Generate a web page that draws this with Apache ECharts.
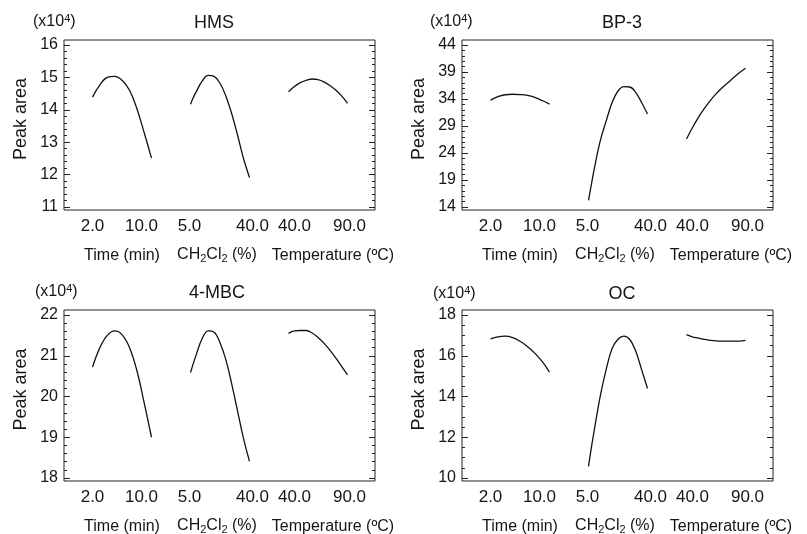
<!DOCTYPE html>
<html>
<head>
<meta charset="utf-8">
<script src="https://cdn.jsdelivr.net/npm/echarts@6/dist/echarts.min.js"></script>
<style>html,body{margin:0;padding:0;background:#fff;}#c{width:807px;height:534px;}</style>
</head>
<body>
<div id="c"></div>
<script>
// ---------- data ----------
const panelTitles = ['HMS', 'BP-3', '4-MBC', 'OC'];
const factorNames = ['Time (min)', 'CH{sub|2}Cl{sub|2} (%)', 'Temperature (ºC)'];
const timeRange = [2, 10];
const ch2Range = [5, 40];
const tempRange = [40, 90];
const timeX = [2, 3, 4, 5, 6, 7, 8, 9, 10];
const ch2X = [5, 6.75, 8.5, 12, 15.5, 19, 22.5, 26, 29.5, 33, 36.5, 40];
const tempX = [40, 45, 50, 55, 60, 65, 70, 75, 80, 85, 90];

const hmsTicks = [11, 12, 13, 14, 15, 16];
const hmsTime = [14.39, 14.77, 15.00, 15.03, 14.91, 14.61, 14.05, 13.30, 12.51];
const hmsCh2 = [14.17, 14.39, 14.57, 14.89, 15.06, 15.03, 14.82, 14.42, 13.87, 13.20, 12.49, 11.91];
const hmsTemp = [14.56, 14.72, 14.84, 14.91, 14.95, 14.93, 14.86, 14.75, 14.61, 14.43, 14.20];

const bp3Ticks = [14, 19, 24, 29, 34, 39, 44];
const bp3Time = [33.78, 34.42, 34.79, 34.88, 34.82, 34.66, 34.30, 33.72, 33.05];
const bp3Ch2 = [15.22, 18.26, 21.18, 26.29, 29.95, 33.35, 35.48, 36.28, 36.22, 35.24, 33.35, 31.22];
const bp3Temp = [26.6, 28.67, 30.55, 32.2, 33.66, 34.94, 36.03, 37.0, 37.98, 38.89, 39.68];

const mbcTicks = [18, 19, 20, 21, 22];
const mbcTime = [20.72, 21.2, 21.50, 21.61, 21.52, 21.21, 20.65, 19.85, 19.0];
const mbcCh2 = [20.59, 20.82, 21.04, 21.43, 21.61, 21.58, 21.32, 20.90, 20.30, 19.63, 18.96, 18.41];
const mbcTemp = [21.55, 21.61, 21.62, 21.62, 21.56, 21.45, 21.31, 21.14, 20.95, 20.74, 20.53];

const ocTicks = [10, 12, 14, 16, 18];
const ocTime = [16.83, 16.93, 16.96, 16.89, 16.71, 16.46, 16.13, 15.72, 15.2];
const ocCh2 = [10.57, 11.51, 12.39, 14.03, 15.33, 16.36, 16.81, 16.96, 16.80, 16.23, 15.32, 14.39];
const ocTemp = [17.04, 16.93, 16.87, 16.80, 16.76, 16.73, 16.72, 16.72, 16.72, 16.72, 16.76];

// ---------- layout / style ----------
const FONT = '"Liberation Sans", Arial, Helvetica, sans-serif';
const INK = '#151515';
const panels = [
  { title: panelTitles[0], ticks: hmsTicks, minorN: 4, series: [hmsTime, hmsCh2, hmsTemp], left: 64, top: 40, h: 170, titleX: 214, titleY: 14, unitX: 33, unitY: 13 },
  { title: panelTitles[1], ticks: bp3Ticks, minorN: 4, series: [bp3Time, bp3Ch2, bp3Temp], left: 462, top: 40, h: 170, titleX: 622, titleY: 14, unitX: 430, unitY: 13 },
  { title: panelTitles[2], ticks: mbcTicks, minorN: 4, series: [mbcTime, mbcCh2, mbcTemp], left: 64, top: 310, h: 171, titleX: 217, titleY: 284, unitX: 35, unitY: 283 },
  { title: panelTitles[3], ticks: ocTicks, minorN: 3, series: [ocTime, ocCh2, ocTemp], left: 462, top: 310, h: 171, titleX: 622, titleY: 285, unitX: 433, unitY: 285 }
];
const W = 311;
const segOff = [28.5, 126.5, 224.5];
const segW = 59;
const factorX = [timeX, ch2X, tempX];
const factorRanges = [timeRange, ch2Range, tempRange];
const namePad = [[0, 0, 0, 0], [0, 6, 0, 0], [0, 0, 0, 30]];
const nameGaps = [38, 35.5, 38];
// label nudges: [min label, max label] as [padLeft, padRight]
const labelPads = [[[0, 0], [0, 20]], [[0, 2], [6, 0]], [[12, 0], [4, 0]]];

const grids = [], xAxes = [], yAxes = [], series = [], titles = [];

panels.forEach((p) => {
  const lo = p.ticks[0], hi = p.ticks[p.ticks.length - 1];
  const span = hi - lo;
  const ymin = lo - span * 3 / 162, ymax = hi + span * 5 / 162;
  const minors = [];
  for (let k = 0; k < p.ticks.length - 1; k++) {
    for (let m = 1; m <= p.minorN; m++) {
      minors.push(p.ticks[k] + (p.ticks[k + 1] - p.ticks[k]) * m / (p.minorN + 1));
    }
  }
  // outer framed grid
  const g = grids.length;
  grids.push({ left: p.left, top: p.top, width: W, height: p.h, show: true, borderColor: '#222', borderWidth: 1, backgroundColor: 'transparent', outerBoundsMode: 'none' });
  xAxes.push({ gridIndex: g, type: 'value', show: false, min: 0, max: 1 });
  ['left', 'right'].forEach((pos) => {
    yAxes.push({
      gridIndex: g, type: 'value', position: pos, min: ymin, max: ymax,
      axisLine: { show: false }, splitLine: { show: false },
      axisTick: { show: true, inside: true, length: 6, customValues: p.ticks, lineStyle: { color: '#222', width: 1 } },
      axisLabel: { show: pos === 'left', customValues: p.ticks, margin: 6, fontSize: 16, color: INK, fontFamily: FONT },
      name: pos === 'left' ? 'Peak area' : '',
      nameLocation: 'middle', nameGap: 34, nameMoveOverlap: false,
      nameTextStyle: { fontSize: 18, color: INK, fontFamily: FONT, padding: [0, 0, 0, 12] }
    });
    yAxes.push({
      gridIndex: g, type: 'value', position: pos, min: ymin, max: ymax,
      axisLine: { show: false }, splitLine: { show: false },
      axisTick: { show: true, inside: true, length: 3, customValues: minors, lineStyle: { color: '#222', width: 1 } },
      axisLabel: { show: false }
    });
  });
  // titles
  titles.push({ text: p.title, left: p.titleX, top: p.titleY, textAlign: 'center', padding: 0,
    textStyle: { fontSize: 18, fontWeight: 'normal', color: INK, fontFamily: FONT } });
  titles.push({ text: '(x10{sup|4})', left: p.unitX, top: p.unitY, padding: 0,
    textStyle: { fontSize: 16, fontWeight: 'normal', color: INK, fontFamily: FONT,
      rich: { sup: { fontSize: 11, color: INK, fontFamily: FONT, padding: [0, 0, 7, 0] } } } });
  // factor segments
  for (let f = 0; f < 3; f++) {
    const gi = grids.length;
    const rng = factorRanges[f];
    const lp = labelPads[f];
    grids.push({ left: p.left + segOff[f], top: p.top, width: segW, height: p.h, outerBoundsMode: 'none' });
    xAxes.push({
      gridIndex: gi, type: 'value', min: rng[0], max: rng[1],
      axisLine: { show: false }, axisTick: { show: false }, splitLine: { show: false },
      axisLabel: {
        customValues: rng, margin: 8, fontSize: 17, color: INK, fontFamily: FONT,
        formatter: (v) => (v === rng[0] ? '{a|' : '{b|') + v.toFixed(1) + '}',
        rich: {
          a: { fontSize: 17, color: INK, fontFamily: FONT, padding: [0, lp[0][1], 0, lp[0][0]] },
          b: { fontSize: 17, color: INK, fontFamily: FONT, padding: [0, lp[1][1], 0, lp[1][0]] }
        }
      },
      name: factorNames[f], nameLocation: 'middle', nameGap: nameGaps[f], nameMoveOverlap: false,
      nameTextStyle: { fontSize: 16, color: INK, fontFamily: FONT, padding: namePad[f],
        rich: { sub: { fontSize: 11, color: INK, fontFamily: FONT, padding: [8, 0, 0, 0] } } }
    });
    yAxes.push({ gridIndex: gi, type: 'value', min: ymin, max: ymax, show: false });
    const xs = factorX[f], ys = p.series[f];
    series.push({
      type: 'line', xAxisIndex: xAxes.length - 1, yAxisIndex: yAxes.length - 1,
      data: xs.map((x, k) => [x, ys[k]]), symbol: 'none', showSymbol: false,
      smooth: 0.4, lineStyle: { color: '#111', width: 1.3 }, silent: true
    });
  }
});

const chart = echarts.init(document.getElementById('c'), null, { renderer: 'canvas' });
chart.setOption({
  animation: false,
  backgroundColor: '#fff',
  title: titles,
  grid: grids,
  xAxis: xAxes,
  yAxis: yAxes,
  series: series
});
</script>
</body>
</html>
